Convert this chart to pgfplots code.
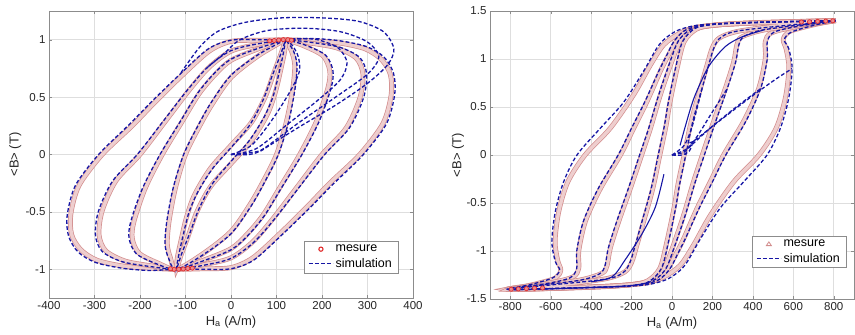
\documentclass[border=0pt]{standalone}
\usepackage{pgfplots}
\pgfplotsset{compat=1.18}
\usepackage{fontspec}
\setmainfont{Liberation Sans}
\definecolor{mpink}{RGB}{210,140,140}
\definecolor{mpinkin}{RGB}{238,206,206}
\definecolor{sblue}{RGB}{22,22,165}
\definecolor{mred}{RGB}{225,45,45}
\definecolor{gridc}{RGB}{222,222,222}
\definecolor{framec}{RGB}{140,140,140}
\pgfplotsset{
  hyst/.style={scale only axis, axis line style={framec}, grid=major,
    grid style={gridc, line width=0.6pt}, tick align=inside, major tick length=3pt,
    tick style={framec}, ticklabel style={font=\fontsize{11.5}{12}\selectfont, text=black!85},
    label style={font=\fontsize{13}{14}\selectfont, text=black!85},
    legend style={font=\fontsize{12.5}{13}\selectfont, draw=framec, fill=white,
      legend cell align=left, row sep=1pt, inner xsep=4pt, inner ysep=2pt}},
  meas/.style={smooth, tension=0.5, draw=mpink, line width=0.7pt, double=mpinkin, double distance=3.4pt, forget plot},
  sim/.style={smooth, tension=0.5, draw=sblue, line width=1.3pt, dash pattern=on 3.8pt off 2.2pt, forget plot},
  simsolid/.style={smooth, tension=0.5, draw=sblue, line width=1.1pt, forget plot},
  tip/.style={only marks, mark=*, mark size=2.1pt, mark options={draw=mred, fill=mred!55!white, line width=0.7pt}, forget plot},
}
\begin{document}
\begin{tikzpicture}
\path[use as bounding box] (0,0) rectangle (855pt,335pt);
% ---------------- left panel ----------------
\begin{axis}[hyst, at={(49pt,37pt)}, anchor=south west, width=364pt, height=287pt,
  xmin=-400, xmax=400, ymin=-1.25, ymax=1.25,
  xtick={-400,-300,-200,-100,0,100,200,300,400},
  xticklabels={-400,-300,-200,-100,0,100,200,300,400},
  ytick={-1,-0.5,0,0.5,1}, yticklabels={-1,-0.5,0,0.5,1},
  xlabel={H\textsubscript{a} (A/m)}, ylabel={<B> (T)},
  xlabel style={at={(axis description cs:0.5,-0.083)}, anchor=center},
  ylabel style={at={(axis description cs:-0.093,0.5)}, anchor=center},
  legend style={at={(0.959,0.087)}, anchor=south east}]
% measured
\addplot[meas] coordinates {(120,1.0) (60,0.995) (0,0.985) (-48,0.9) (-107,0.69) (-166,0.46) (-217,0.25) (-283,0.0) (-334,-0.27) (-352,-0.52) (-350,-0.7) (-330,-0.83) (-295,-0.92) (-240,-0.97) (-180,-0.99) (-120,-1.0) (-60,-0.995) (0,-0.985) (48,-0.9) (107,-0.69) (166,-0.46) (217,-0.25) (283,0.0) (334,0.27) (352,0.52) (350,0.7) (330,0.83) (295,0.92) (240,0.97) (180,0.99) (120,1.0)};
\addplot[meas] coordinates {(120,1.0) (60,0.96) (0,0.9) (-48,0.76) (-92,0.56) (-144,0.29) (-200,0.0) (-253,-0.23) (-283,-0.49) (-290,-0.7) (-275,-0.84) (-231,-0.93) (-166,-0.975) (-120,-1.0) (-60,-0.96) (0,-0.9) (48,-0.76) (92,-0.56) (144,-0.29) (200,0.0) (253,0.23) (283,0.49) (290,0.7) (275,0.84) (231,0.93) (166,0.975) (120,1.0)};
\addplot[meas] coordinates {(120,1.0) (60,0.92) (0,0.82) (-34,0.7) (-70,0.53) (-107,0.29) (-151,0.0) (-188,-0.29) (-213,-0.58) (-217,-0.73) (-202,-0.86) (-158,-0.95) (-120,-1.0) (-60,-0.92) (0,-0.82) (34,-0.7) (70,-0.53) (107,-0.29) (151,0.0) (188,0.29) (213,0.58) (217,0.73) (202,0.86) (158,0.95) (120,1.0)};
\addplot[meas] coordinates {(120,1.0) (60,0.86) (0,0.67) (-41,0.44) (-70,0.24) (-100,0.0) (-122,-0.29) (-136,-0.58) (-140,-0.78) (-133,-0.9) (-120,-1.0) (-60,-0.86) (0,-0.67) (41,-0.44) (70,-0.24) (100,0.0) (122,0.29) (136,0.58) (140,0.78) (133,0.9) (120,1.0)};
\addplot[meas] coordinates {(120,1.0) (118,0.9) (110,0.75) (98,0.55) (80,0.35) (45,0.12) (0,-0.08) (-45,-0.28) (-75,-0.5) (-95,-0.72) (-110,-0.88) (-120,-1.0) (-118,-0.9) (-110,-0.75) (-98,-0.55) (-80,-0.35) (-45,-0.12) (0,0.08) (45,0.28) (75,0.5) (95,0.72) (110,0.88) (120,1.0)};
\addplot[tip] coordinates {(85,0.99) (95,0.993) (105,0.997) (115,1.0) (125,1.0) (133,0.995) (-85,-0.99) (-95,-0.993) (-105,-0.997) (-115,-1.0) (-125,-1.0) (-133,-0.995)};
% simulation
\addplot[sim] coordinates {(120,1.0) (60,1.0) (0,0.995) (-50,0.92) (-112,0.7) (-172,0.47) (-224,0.26) (-291,0.0) (-342,-0.27) (-360,-0.53) (-357,-0.71) (-336,-0.85) (-298,-0.94) (-240,-0.99) (-180,-1.01) (-120,-1.0) (-60,-1.0) (0,-0.995) (50,-0.92) (112,-0.7) (172,-0.47) (224,-0.26) (291,0.0) (342,0.27) (360,0.53) (357,0.71) (336,0.85) (298,0.94) (240,0.99) (180,1.01) (120,1.0)};
\addplot[sim] coordinates {(120,1.0) (60,0.965) (0,0.905) (-50,0.765) (-95,0.565) (-148,0.295) (-206,0.0) (-260,-0.23) (-291,-0.49) (-298,-0.7) (-283,-0.845) (-238,-0.935) (-170,-0.98) (-120,-1.0) (-60,-0.965) (0,-0.905) (50,-0.765) (95,-0.565) (148,-0.295) (206,0.0) (260,0.23) (291,0.49) (298,0.7) (283,0.845) (238,0.935) (170,0.98) (120,1.0)};
\addplot[sim] coordinates {(120,1.0) (60,0.925) (0,0.83) (-36,0.71) (-73,0.535) (-111,0.29) (-156,0.0) (-194,-0.29) (-220,-0.58) (-224,-0.73) (-208,-0.865) (-162,-0.955) (-120,-1.0) (-60,-0.925) (0,-0.83) (36,-0.71) (73,-0.535) (111,-0.29) (156,0.0) (194,0.29) (220,0.58) (224,0.73) (208,0.865) (162,0.955) (120,1.0)};
\addplot[sim] coordinates {(120,1.0) (60,0.87) (0,0.69) (-44,0.45) (-74,0.24) (-104,0.0) (-127,-0.29) (-141,-0.58) (-145,-0.78) (-137,-0.905) (-120,-1.0) (-60,-0.87) (0,-0.69) (44,-0.45) (74,-0.24) (104,0.0) (127,0.29) (141,0.58) (145,0.78) (137,0.905) (120,1.0)};
\addplot[sim] coordinates {(120,1.0) (115,0.88) (105,0.7) (92,0.5) (72,0.32) (40,0.12) (0,-0.06) (-40,-0.25) (-70,-0.47) (-90,-0.68) (-108,-0.86) (-120,-1.0) (-115,-0.88) (-105,-0.7) (-92,-0.5) (-72,-0.32) (-40,-0.12) (0,0.06) (40,0.25) (70,0.47) (90,0.68) (108,0.86) (120,1.0)};
% simulation transients
\addplot[sim] coordinates {(0,0) (40,0.0) (65,0.03) (85,0.08) (150,0.24) (230,0.43) (300,0.62) (344,0.78) (358,0.92) (335,1.07) (280,1.16) (200,1.19) (110,1.19) (30,1.15) (-30,1.07) (-70,0.93) (-112,0.7)};
\addplot[sim] coordinates {(0,0) (50,0.02) (75,0.06) (150,0.28) (230,0.5) (300,0.7) (325,0.85) (300,0.98) (240,1.07) (160,1.1) (80,1.08) (20,1.0) (-15,0.88) (-50,0.765)};
\addplot[sim] coordinates {(0,0) (55,0.05) (120,0.25) (190,0.47) (240,0.65) (255,0.8) (235,0.93) (190,1.0) (150,1.01) (120,1.0)};
\addplot[sim] coordinates {(0,0) (45,0.08) (90,0.3) (130,0.55) (150,0.72) (148,0.85) (135,0.95) (120,1.0)};
\addlegendimage{legend image code/.code={\draw[mred, line width=1.1pt] (12pt,0pt) circle (2.1pt);}}
\addlegendentry{mesure}
\addlegendimage{legend image code/.code={\draw[sblue, line width=1.3pt, dash pattern=on 3.8pt off 2.2pt] (0pt,0pt) -- (24pt,0pt);}}
\addlegendentry{simulation}
\end{axis}
% ---------------- right panel ----------------
\begin{axis}[hyst, at={(490pt,36pt)}, anchor=south west, width=364pt, height=288pt,
  xmin=-900, xmax=900, ymin=-1.5, ymax=1.5,
  xtick={-800,-600,-400,-200,0,200,400,600,800},
  xticklabels={-800,-600,-400,-200,0,200,400,600,800},
  ytick={-1.5,-1,-0.5,0,0.5,1,1.5}, yticklabels={-1.5,-1,-0.5,0,0.5,1,1.5},
  xlabel={H\textsubscript{a} (A/m)}, ylabel={<B> (T)},
  xlabel style={at={(axis description cs:0.5,-0.083)}, anchor=center},
  ylabel style={at={(axis description cs:-0.088,0.5)}, anchor=center},
  legend style={at={(0.978,0.108)}, anchor=south east}]
% measured
\addplot[meas] coordinates {(810,1.4) (600,1.39) (400,1.378) (250,1.36) (120,1.33) (40,1.27) (-40,1.15) (-106,0.94) (-189,0.63) (-305,0.28) (-430,0.0) (-515,-0.28) (-560,-0.59) (-578,-0.9) (-565,-1.1) (-550,-1.2) (-575,-1.28) (-650,-1.33) (-730,-1.37) (-810,-1.4) (-600,-1.39) (-400,-1.378) (-250,-1.36) (-120,-1.33) (-40,-1.27) (40,-1.15) (106,-0.94) (189,-0.63) (305,-0.28) (430,0.0) (515,0.28) (560,0.59) (578,0.9) (565,1.1) (550,1.2) (575,1.28) (650,1.33) (730,1.37) (810,1.4)};
\addplot[meas] coordinates {(810,1.4) (400,1.375) (200,1.35) (80,1.3) (20,1.18) (-20,1.03) (-57,0.875) (-123,0.56) (-189,0.28) (-255,0.0) (-354,-0.35) (-428,-0.69) (-461,-1.0) (-461,-1.18) (-490,-1.27) (-600,-1.33) (-810,-1.4) (-400,-1.375) (-200,-1.35) (-80,-1.3) (-20,-1.18) (20,-1.03) (57,-0.875) (123,-0.56) (189,-0.28) (255,0.0) (354,0.35) (428,0.69) (461,1.0) (461,1.18) (490,1.27) (600,1.33) (810,1.4)};
\addplot[meas] coordinates {(810,1.4) (400,1.375) (200,1.35) (100,1.3) (40,1.18) (0,0.98) (-57,0.63) (-106,0.28) (-150,0.0) (-206,-0.35) (-263,-0.69) (-305,-0.97) (-321,-1.15) (-345,-1.23) (-450,-1.3) (-650,-1.36) (-810,-1.4) (-400,-1.375) (-200,-1.35) (-100,-1.3) (-40,-1.18) (0,-0.98) (57,-0.63) (106,-0.28) (150,0.0) (206,0.35) (263,0.69) (305,0.97) (321,1.15) (345,1.23) (450,1.3) (650,1.36) (810,1.4)};
\addplot[meas] coordinates {(810,1.4) (400,1.375) (200,1.35) (120,1.31) (60,1.18) (25,0.9) (-10,0.55) (-30,0.3) (-60,0.0) (-95,-0.35) (-140,-0.69) (-175,-0.95) (-200,-1.12) (-235,-1.22) (-330,-1.29) (-550,-1.35) (-810,-1.4) (-400,-1.375) (-200,-1.35) (-120,-1.31) (-60,-1.18) (-25,-0.9) (10,-0.55) (30,-0.3) (60,0.0) (95,0.35) (140,0.69) (175,0.95) (200,1.12) (235,1.22) (330,1.29) (550,1.35) (810,1.4)};
\addplot[tip] coordinates {(640,1.385) (680,1.388) (720,1.392) (760,1.395) (795,1.398) (-640,-1.385) (-680,-1.388) (-720,-1.392) (-760,-1.395) (-795,-1.398)};
% simulation
\addplot[sim] coordinates {(810,1.4) (600,1.39) (400,1.38) (250,1.37) (120,1.35) (30,1.3) (-30,1.22) (-73,1.12) (-140,0.875) (-239,0.55) (-354,0.28) (-470,0.0) (-536,-0.28) (-577,-0.59) (-594,-0.9) (-577,-1.11) (-555,-1.2) (-590,-1.28) (-700,-1.35) (-810,-1.4) (-600,-1.39) (-400,-1.38) (-250,-1.37) (-120,-1.35) (-30,-1.3) (30,-1.22) (73,-1.12) (140,-0.875) (239,-0.55) (354,-0.28) (470,0.0) (536,0.28) (577,0.59) (594,0.9) (577,1.11) (555,1.2) (590,1.28) (700,1.35) (810,1.4)};
\addplot[sim] coordinates {(810,1.4) (400,1.38) (200,1.36) (75,1.31) (12,1.19) (-28,1.03) (-65,0.875) (-133,0.56) (-200,0.28) (-266,0.0) (-365,-0.35) (-438,-0.69) (-471,-1.0) (-471,-1.18) (-505,-1.28) (-620,-1.34) (-810,-1.4) (-400,-1.38) (-200,-1.36) (-75,-1.31) (-12,-1.19) (28,-1.03) (65,-0.875) (133,-0.56) (200,-0.28) (266,0.0) (365,0.35) (438,0.69) (471,1.0) (471,1.18) (505,1.28) (620,1.34) (810,1.4)};
\addplot[sim] coordinates {(810,1.4) (400,1.38) (200,1.36) (95,1.31) (32,1.19) (-8,0.98) (-65,0.63) (-115,0.28) (-160,0.0) (-216,-0.35) (-273,-0.69) (-315,-0.97) (-331,-1.15) (-360,-1.24) (-470,-1.31) (-810,-1.4) (-400,-1.38) (-200,-1.36) (-95,-1.31) (-32,-1.19) (8,-0.98) (65,-0.63) (115,-0.28) (160,0.0) (216,0.35) (273,0.69) (315,0.97) (331,1.15) (360,1.24) (470,1.31) (810,1.4)};
\addplot[sim] coordinates {(810,1.4) (400,1.38) (200,1.36) (115,1.32) (52,1.18) (17,0.9) (-18,0.55) (-38,0.3) (-68,0.0) (-103,-0.35) (-148,-0.69) (-183,-0.95) (-208,-1.12) (-245,-1.23) (-350,-1.3) (-810,-1.4) (-400,-1.38) (-200,-1.36) (-115,-1.32) (-52,-1.18) (-17,-0.9) (18,-0.55) (38,-0.3) (68,0.0) (103,0.35) (148,0.69) (183,0.95) (208,1.12) (245,1.23) (350,1.3) (810,1.4)};
% transients
\addplot[sim] coordinates {(0,0) (50,0.0) (85,0.04) (100,0.12) (85,0.13) (110,0.15) (250,0.38) (400,0.62) (520,0.8) (594,0.9)};
\addplot[sim] coordinates {(0,0) (60,0.03) (95,0.1) (200,0.3) (330,0.52) (438,0.69)};
\addplot[sim] coordinates {(0,0) (70,0.06) (120,0.18) (200,0.45) (273,0.69)};
\addplot[sim] coordinates {(0,0) (60,0.1) (100,0.3) (148,0.69)};
\addplot[simsolid] coordinates {(40,0.1) (66,0.3) (110,0.6) (181,0.92) (264,1.13) (346,1.23) (450,1.3)};
\addplot[simsolid] coordinates {(-40,-0.2) (-82,-0.54) (-148,-0.82) (-231,-1.09) (-297,-1.27) (-400,-1.32)};
\addlegendimage{legend image code/.code={\draw[mpink, line width=0.8pt] (9.5pt,-1.6pt) -- (12pt,2.2pt) -- (14.5pt,-1.6pt) -- cycle;}}
\addlegendentry{mesure}
\addlegendimage{legend image code/.code={\draw[sblue, line width=1.3pt, dash pattern=on 3.8pt off 2.2pt] (0pt,0pt) -- (24pt,0pt);}}
\addlegendentry{simulation}
\end{axis}
\end{tikzpicture}
\end{document}
